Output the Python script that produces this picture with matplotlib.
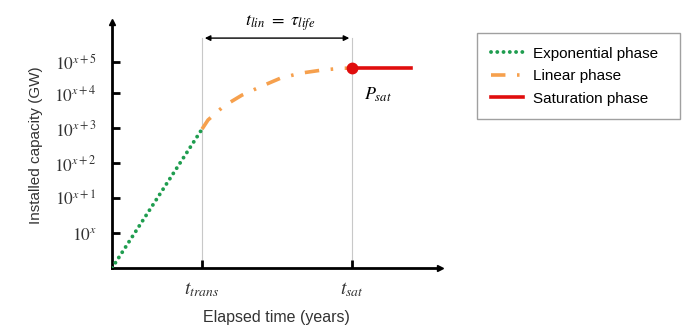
import numpy as np
import matplotlib
matplotlib.use('Agg')
import matplotlib.pyplot as plt

plt.rcParams['font.family'] = ['Liberation Sans', 'DejaVu Sans']
plt.rcParams['mathtext.fontset'] = 'stix'

# --- data (time in arbitrary years, capacity in decades above 10^x) ---
t_trans = 3.0
t_sat = 8.0

exp_t = [0.0, 3.0]
exp_y = [0.0, 3.97]

lin_t = [3.0, 3.2, 3.73, 4.33, 5.0, 5.63, 6.3, 7.03, 7.7, 8.0]
lin_y = [3.97, 4.23, 4.63, 4.94, 5.2, 5.43, 5.57, 5.66, 5.71, 5.71]

sat_t = [8.0, 9.95]
sat_y = [5.71, 5.71]

ytick_pos = [1, 2, 3, 4, 5, 5.9]
ytick_labels = ['$10^{x}$', '$10^{x+1}$', '$10^{x+2}$', '$10^{x+3}$', '$10^{x+4}$', '$10^{x+5}$']
xtick_pos = [t_trans, t_sat]
xtick_labels = ['$t_{trans}$', '$t_{sat}$']

green = '#1f9d4f'
orange = '#f6a04d'
red = '#e00d0d'

fig = plt.figure(figsize=(6.86, 3.27), dpi=100)
ax = fig.add_axes([112 / 686, 59 / 327, 328 / 686, 246 / 327])

# guide lines
for tv in xtick_pos:
    ax.plot([tv, tv], [0, 6.57], color='#c8c8c8', lw=0.8, zorder=1)

ax.plot(exp_t, exp_y, color=green, lw=2.8, ls=(0, (0.01, 1.6)), dash_capstyle='round',
        label='Exponential phase', zorder=3)
ax.plot(lin_t, lin_y, color=orange, lw=2.6, ls=(0, (4, 3.2, 0.7, 3.2)),
        label='Linear phase', zorder=3)
ax.plot(sat_t, sat_y, color=red, lw=2.6, label='Saturation phase', zorder=3)
ax.plot([t_sat], [sat_y[0]], 'o', color=red, ms=7.5, zorder=4)

# double arrow t_lin
ax.annotate('', xy=(t_trans, 6.57), xytext=(t_sat, 6.57),
            arrowprops=dict(arrowstyle='<|-|>', color='black', lw=1, mutation_scale=8),
            annotation_clip=False)
ax.text((t_trans + t_sat) / 2 + 0.1, 7.0, r'$t_{lin}\ =\ \tau_{life}$', ha='center', va='center',
        fontsize=13, clip_on=False)
ax.text(t_sat + 0.4, 4.95, r'$P_{sat}$', ha='left', va='center', fontsize=13)

ax.set_xlim(0, 10.93)
ax.set_ylim(0, 7.03)
for s in ['top', 'right']:
    ax.spines[s].set_visible(False)
for s in ['left', 'bottom']:
    ax.spines[s].set_linewidth(2)
ax.plot(1, 0, '>k', ms=5, transform=ax.get_yaxis_transform(), clip_on=False)
ax.plot(0, 1, '^k', ms=5, transform=ax.get_xaxis_transform(), clip_on=False)

ax.set_yticks(ytick_pos)
ax.set_yticklabels(ytick_labels, fontsize=12.5)
ax.set_xticks(xtick_pos)
ax.set_xticklabels(xtick_labels, fontsize=14)
ax.tick_params(axis='y', direction='in', length=6, width=2, pad=11)
ax.tick_params(axis='x', direction='in', length=6, width=2, pad=9)
for lab in ax.get_xticklabels() + ax.get_yticklabels():
    lab.set_color('#333333')

ax.set_ylabel('Installed capacity (GW)', fontsize=11, color='#333333', labelpad=8)
ax.set_xlabel('Elapsed time (years)', fontsize=11.5, color='#333333', labelpad=8)

leg = ax.legend(loc='upper left', bbox_to_anchor=(477 / 686, 1 - 120 / 327, 203 / 686, 87 / 327),
                bbox_transform=fig.transFigure, fontsize=11, frameon=True, mode='expand',
                fancybox=False, edgecolor='#888888', handlelength=2.1, handletextpad=0.65,
                borderpad=0.9, labelspacing=0.55, borderaxespad=0)
leg.get_frame().set_linewidth(1)

fig.savefig('out.png', dpi=100)
